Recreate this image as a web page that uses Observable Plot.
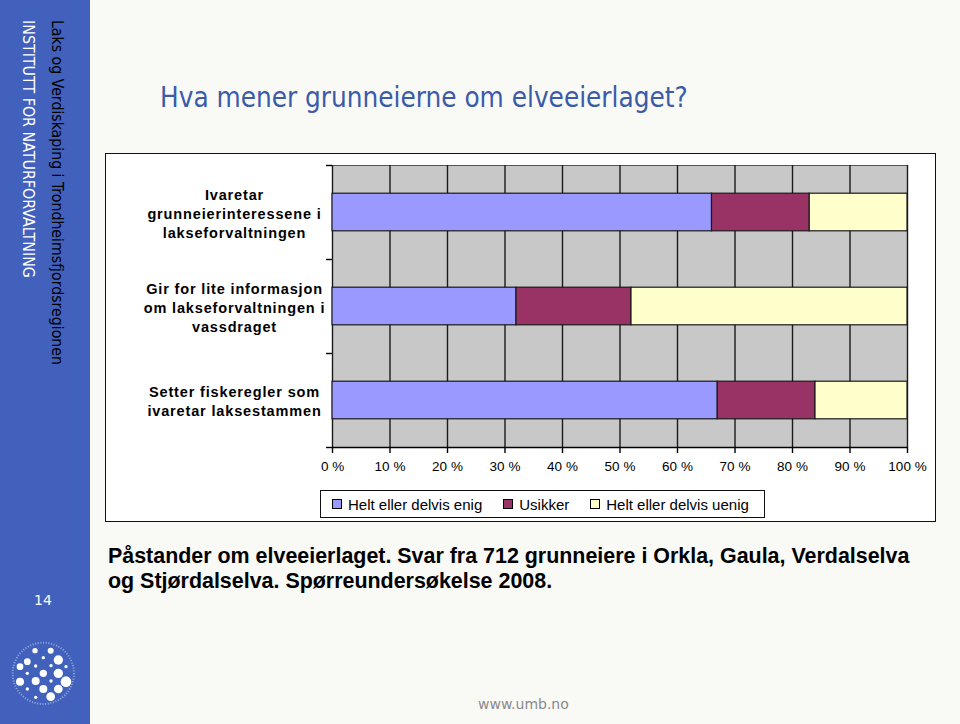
<!DOCTYPE html>
<html><head><meta charset="utf-8">
<script src="https://cdn.jsdelivr.net/npm/d3@7"></script>
<script src="https://cdn.jsdelivr.net/npm/@observablehq/plot@0.6"></script>
<style>
body{margin:0;}
#page{position:relative;width:960px;height:724px;background:#f9f9f6;overflow:hidden;font-family:"Liberation Sans",Arial,sans-serif;}
#side{position:absolute;left:0;top:0;width:90px;height:724px;background:#4161bd;}
.vt{position:absolute;writing-mode:vertical-rl;white-space:nowrap;font-family:"DejaVu Sans",sans-serif;font-stretch:semi-condensed;line-height:20px;width:20px;}
#title{position:absolute;left:160px;top:82px;line-height:32px;white-space:nowrap;font-family:"DejaVu Sans",sans-serif;font-stretch:semi-condensed;font-size:24px;color:#3b5ba8;}
#box{position:absolute;left:105px;top:153px;width:831px;height:369px;box-sizing:border-box;border:1px solid #111;background:#fff;}
#chart{position:absolute;left:0;top:0;}
#legend{position:absolute;left:214px;top:336px;width:445px;height:28px;box-sizing:border-box;border:1px solid #111;display:flex;align-items:center;padding-left:11px;font-size:15px;color:#000;white-space:nowrap;}
#legend .it{display:flex;align-items:center;margin-right:21px;}
#legend .sw{width:8px;height:8px;border:1px solid #000;margin-right:6px;}
.cap{position:absolute;left:108px;white-space:nowrap;font-weight:bold;font-size:19px;line-height:24px;color:#000;}
#num{position:absolute;left:34px;top:592px;color:#fff;font-family:"DejaVu Sans",sans-serif;font-size:14px;}
#url{position:absolute;left:478px;top:696px;color:#8a8a8a;font-family:"DejaVu Sans",sans-serif;font-size:14px;white-space:nowrap;}
#logo{position:absolute;left:0;top:620px;}
</style>
</head><body>
<div id="page">
  <div id="side"></div>
  <span class="vt" id="vt1" style="left:18px;top:20px;color:#fff;font-size:15px;">INSTITUTT FOR NATURFORVALTNING</span>
  <span class="vt" id="vt2" style="left:47px;top:20px;color:#000;font-size:16px;">Laks og Verdiskaping i Trondheimsfjordsregionen</span>
  <div id="num">14</div>
  <svg id="logo" width="90" height="90" viewBox="0 0 270 270">
    <circle cx="130" cy="160" r="92" fill="none" stroke="#fff" stroke-opacity="0.45" stroke-width="6" stroke-dasharray="3 5"/>
    <g fill="#fff">
      <circle cx="105" cy="92" r="8"/><circle cx="152" cy="92" r="9"/><circle cx="82" cy="125" r="10"/>
      <circle cx="130" cy="113" r="5"/><circle cx="175" cy="120" r="14"/><circle cx="60" cy="140" r="10"/>
      <circle cx="107" cy="138" r="5"/><circle cx="153" cy="137" r="5"/><circle cx="198" cy="140" r="5"/>
      <circle cx="130" cy="160" r="11"/><circle cx="82" cy="160" r="5"/><circle cx="175" cy="160" r="14"/>
      <circle cx="60" cy="185" r="12"/><circle cx="107" cy="183" r="12"/><circle cx="153" cy="183" r="5"/>
      <circle cx="198" cy="185" r="16"/><circle cx="130" cy="207" r="12"/><circle cx="175" cy="207" r="13"/>
      <circle cx="82" cy="207" r="5"/><circle cx="107" cy="232" r="5"/><circle cx="152" cy="230" r="13"/>
    </g>
  </svg>
  <span id="title">Hva mener grunneierne om elveeierlaget?</span>
  <div id="box">
    <div id="chart"></div>
    <div id="legend"></div>
  </div>
  <span class="cap" id="cap1" style="top:544px;">Påstander om elveeierlaget. Svar fra 712 grunneiere i Orkla, Gaula, Verdalselva</span>
  <span class="cap" id="cap2" style="top:569px;">og Stjørdalselva. Spørreundersøkelse 2008.</span>
  <span id="url">www.umb.no</span>
</div>
<script>
// ---- data ----
const categories = [
  "Ivaretar\ngrunneierinteressene i\nlakseforvaltningen",
  "Gir for lite informasjon\nom lakseforvaltningen i\nvassdraget",
  "Setter fiskeregler som\nivaretar laksestammen"
];
const series = ["Helt eller delvis enig", "Usikker", "Helt eller delvis uenig"];
const enig = [66, 32, 67];
const usikker = [17, 20, 17];
const uenig = [17, 48, 16];
const xTicks = [0, 10, 20, 30, 40, 50, 60, 70, 80, 90, 100];
const colors = ["#9999ff", "#993366", "#ffffcc"];

// ---- fit text helpers ----
function fitW(el, target) {
  const w = el.getBoundingClientRect().width;
  const fs = parseFloat(getComputedStyle(el).fontSize);
  el.style.fontSize = (fs * target / w) + "px";
}
function fitH(el, target) {
  const h = el.getBoundingClientRect().height;
  const fs = parseFloat(getComputedStyle(el).fontSize);
  el.style.fontSize = (fs * target / h) + "px";
}
fitW(document.getElementById("title"), 528);
fitH(document.getElementById("vt1"), 258);
fitH(document.getElementById("vt2"), 345);
const cap1 = document.getElementById("cap1");
fitW(cap1, 802);
document.getElementById("cap2").style.fontSize = cap1.style.fontSize;

// ---- build stacked rows ----
const valueSets = [enig, usikker, uenig];
const barGap = 0.3;
const rows = [];
categories.forEach((c, i) => {
  let acc = 0;
  series.forEach((s, j) => {
    const v = valueSets[j][i];
    rows.push({cat: i, series: s, x1: acc, x2: acc + v});
    acc += v;
  });
});

const FONT = "Liberation Sans, Arial, sans-serif";
const chart = Plot.plot({
  width: 829,
  height: 334,
  marginLeft: 226,
  marginRight: 28,
  marginTop: 11,
  marginBottom: 41,
  style: {fontFamily: FONT, fontSize: "13.5px", color: "#000", background: "transparent"},
  x: {domain: [0, 100], label: null},
  y: {domain: [0, categories.length], reverse: true, label: null},
  color: {domain: series, range: colors},
  marks: [
    Plot.frame({fill: "#c8c8c8", stroke: "#555"}),
    Plot.ruleX(xTicks, {stroke: "#1a1a1a", strokeWidth: 1.4}),
    Plot.rect(rows, {x1: "x1", x2: "x2", y1: d => d.cat + barGap, y2: d => d.cat + 1 - barGap, fill: "series", stroke: "#1a1a1a", strokeWidth: 1.2}),
    Plot.ruleY([categories.length], {stroke: "#000", strokeWidth: 1.4}),
    Plot.axisX({ticks: xTicks, tickFormat: d => `${d} %`, tickSize: 6, tickPadding: 8, fontSize: 13.5, label: null, strokeWidth: 1.4}),
    Plot.axisY({ticks: d3.range(0, categories.length + 1), tickFormat: () => "", tickSize: 6, label: null, strokeWidth: 1.4}),
    Plot.text(categories, {x: 0, y: (d, i) => i + 0.5, dx: -98, textAnchor: "middle", fontWeight: "bold", fontSize: 14.5, lineHeight: 1.32, fill: "#000"})
  ]
});
chart.setAttribute("font-family", FONT);
document.getElementById("chart").appendChild(chart);
chart.querySelectorAll("text").forEach(t => t.setAttribute("font-family", FONT));
chart.querySelectorAll('g[aria-label="text"] text').forEach(t => t.setAttribute("letter-spacing", "0.85px"));

// ---- legend ----
const legend = document.getElementById("legend");
series.forEach((s, j) => {
  const it = document.createElement("div");
  it.className = "it";
  const sw = document.createElement("div");
  sw.className = "sw";
  sw.style.background = colors[j];
  const tx = document.createElement("span");
  tx.textContent = s;
  it.appendChild(sw); it.appendChild(tx);
  legend.appendChild(it);
});
</script>
</body></html>
